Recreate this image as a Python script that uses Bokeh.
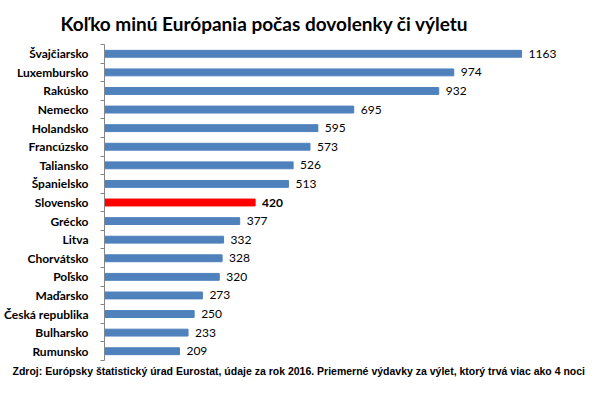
from bokeh.plotting import figure
from bokeh.models import ColumnDataSource, Range1d, FixedTicker, Title
from bokeh.core.properties import value
from bokeh.embed import file_html
from bokeh.resources import INLINE

countries = ["Švajčiarsko", "Luxembursko", "Rakúsko", "Nemecko", "Holandsko",
             "Francúzsko", "Taliansko", "Španielsko", "Slovensko", "Grécko",
             "Litva", "Chorvátsko", "Poľsko", "Maďarsko", "Česká republika",
             "Bulharsko", "Rumunsko"]
values = [1163, 974, 932, 695, 595, 573, 526, 513, 420, 377, 332, 328, 320,
          273, 250, 233, 209]
highlight = "Slovensko"
title_text = "Koľko minú Európania počas dovolenky či výletu"
source_text = ("Zdroj: Európsky štatistický úrad Eurostat, údaje za rok 2016. "
               "Priemerné výdavky za výlet, ktorý trvá viac ako 4 noci")

n = len(countries)
ypos = [n - 0.5 - i for i in range(n)]
colors = ["#FF0000" if c == highlight else "#4F81BD" for c in countries]
weights = ["bold" if c == highlight else "normal" for c in countries]
labels = [str(v) for v in values]

src = ColumnDataSource(dict(y=ypos, v=values, c=colors, w=weights, t=labels))

p = figure(width=596, height=378, output_backend="svg", toolbar_location=None,
           x_range=Range1d(0, 1372), y_range=Range1d(0, n),
           x_axis_location=None,
           min_border_left=92, min_border_right=0, min_border_top=38,
           min_border_bottom=8)
p.title.text = title_text
p.title.align = "left"
p.title.offset = -44
p.title.standoff = 19
p.title.text_font = "Lato"
p.title.text_font_size = "19px"
p.title.text_line_height = 1.0
p.title.text_font_style = "bold"
p.title.text_color = "#000000"

p.hbar(y="y", right="v", left=0, height=0.37, color="c", source=src)
p.text(x="v", y="y", text="t", text_font_style="w", x_offset=7,
       text_baseline="middle", text_align="left", text_font=value("Lato"),
       text_font_size="12px", text_color="#000000", source=src)

p.xgrid.visible = False
p.ygrid.visible = False
p.outline_line_color = None

ax = p.yaxis[0]
ax.ticker = FixedTicker(ticks=ypos, minor_ticks=list(range(n + 1)))
ax.major_label_overrides = {y: c for y, c in zip(ypos, countries)}
ax.major_tick_line_color = None
ax.major_tick_out = 0
ax.major_tick_in = 0
ax.minor_tick_out = 4
ax.minor_tick_in = 0
ax.minor_tick_line_color = "#868686"
ax.axis_line_color = "#868686"
ax.major_label_standoff = 12
ax.major_label_text_font = "Lato"
ax.major_label_text_font_style = "bold"
ax.major_label_text_font_size = "12px"
ax.major_label_text_color = "#000000"

p.add_layout(Title(text=source_text, align="left", offset=-92, standoff=4,
                   text_font="Liberation Sans", text_font_size="10.5px",
                   text_line_height=1.0,
                   text_font_style="bold", text_color="#000000"), "below")

open("out.html", "w").write(file_html(p, INLINE))
